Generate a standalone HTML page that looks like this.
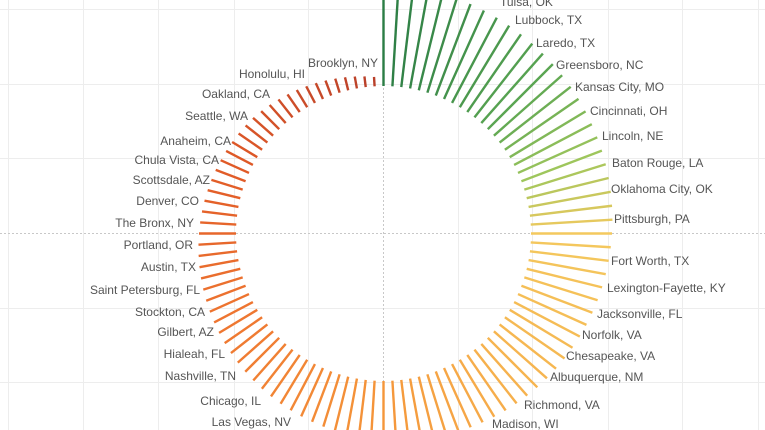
<!DOCTYPE html>
<html><head><meta charset="utf-8"><style>
html,body{margin:0;padding:0;background:#fff;}
svg{display:block;}
text{font-family:"Liberation Sans",sans-serif;font-size:12px;fill:#555;dominant-baseline:middle;}
</style></head><body>
<svg id="s" width="765" height="430" viewBox="0 0 765 430">
<g id="grid" stroke="#ededed" stroke-width="1">
<line x1="0" y1="9.5" x2="765" y2="9.5"/><line x1="0" y1="84.5" x2="765" y2="84.5"/><line x1="0" y1="158.5" x2="765" y2="158.5"/><line x1="0" y1="308.5" x2="765" y2="308.5"/><line x1="0" y1="382.5" x2="765" y2="382.5"/>
<line x1="8.5" y1="0" x2="8.5" y2="430"/><line x1="83.5" y1="0" x2="83.5" y2="430"/><line x1="158.5" y1="0" x2="158.5" y2="430"/><line x1="234.5" y1="0" x2="234.5" y2="430"/><line x1="308.5" y1="0" x2="308.5" y2="430"/><line x1="458.5" y1="0" x2="458.5" y2="430"/><line x1="532.5" y1="0" x2="532.5" y2="430"/><line x1="608.5" y1="0" x2="608.5" y2="430"/><line x1="682.5" y1="0" x2="682.5" y2="430"/><line x1="758.5" y1="0" x2="758.5" y2="430"/>
</g>
<line x1="0" y1="233.5" x2="765" y2="233.5" stroke="#c8c8c8" stroke-dasharray="2,2"/>
<line x1="383.5" y1="0" x2="383.5" y2="430" stroke="#c8c8c8" stroke-dasharray="2,2"/>
<g id="bars"></g>
<g text-anchor="start">
<text x="500" y="3">Tulsa, OK</text>
<text x="515" y="21">Lubbock, TX</text>
<text x="536" y="44">Laredo, TX</text>
<text x="556" y="66">Greensboro, NC</text>
<text x="575" y="88">Kansas City, MO</text>
<text x="590" y="112">Cincinnati, OH</text>
<text x="602" y="137">Lincoln, NE</text>
<text x="612" y="164">Baton Rouge, LA</text>
<text x="611" y="190">Oklahoma City, OK</text>
<text x="614" y="220">Pittsburgh, PA</text>
<text x="611" y="262">Fort Worth, TX</text>
<text x="607" y="289">Lexington-Fayette, KY</text>
<text x="597" y="315">Jacksonville, FL</text>
<text x="582" y="336">Norfolk, VA</text>
<text x="566" y="357">Chesapeake, VA</text>
<text x="550" y="378">Albuquerque, NM</text>
<text x="524" y="406">Richmond, VA</text>
<text x="492" y="425">Madison, WI</text>
</g>
<g text-anchor="end">
<text x="378" y="64">Brooklyn, NY</text>
<text x="305" y="75">Honolulu, HI</text>
<text x="270" y="95">Oakland, CA</text>
<text x="248" y="117">Seattle, WA</text>
<text x="231" y="142">Anaheim, CA</text>
<text x="219" y="161">Chula Vista, CA</text>
<text x="210" y="181">Scottsdale, AZ</text>
<text x="199" y="202">Denver, CO</text>
<text x="194" y="224">The Bronx, NY</text>
<text x="193" y="246">Portland, OR</text>
<text x="196" y="268">Austin, TX</text>
<text x="200" y="291">Saint Petersburg, FL</text>
<text x="205" y="313">Stockton, CA</text>
<text x="214" y="333">Gilbert, AZ</text>
<text x="225" y="355">Hialeah, FL</text>
<text x="236" y="377">Nashville, TN</text>
<text x="261" y="402">Chicago, IL</text>
<text x="291" y="423">Las Vegas, NV</text>
</g>
</svg>
<script>
(function(){
var stops=[[0,[43,125,69]],[13,[90,165,82]],[20,[158,198,92]],[26,[244,201,94]],[40,[246,178,78]],[52,[245,150,58]],[70,[238,117,48]],[85,[224,90,39]],[103,[185,64,42]]];
function col(i){for(var k=0;k<stops.length-1;k++){var a=stops[k],b=stops[k+1];if(i<=b[0]){var t=(i-a[0])/(b[0]-a[0]);return 'rgb('+a[1].map(function(v,j){return Math.round(v+(b[1][j]-v)*t);}).join(',')+')';}}return 'rgb(185,64,42)';}
var g=document.getElementById('bars'),cx=383.5,cy=233.5,r0=147.5,h='';
for(var i=0;i<104;i++){var a=i*2*Math.PI/104;var L=103-0.846*i;if(i>90)L-=(i-90)*0.5;var r1=r0+L;
var s=Math.sin(a),c=Math.cos(a);
h+='<line x1="'+(cx+r0*s).toFixed(2)+'" y1="'+(cy-r0*c).toFixed(2)+'" x2="'+(cx+r1*s).toFixed(2)+'" y2="'+(cy-r1*c).toFixed(2)+'" stroke="'+col(i)+'" stroke-width="2.4"/>';}
g.innerHTML=h;
})();
</script>
</body></html>
